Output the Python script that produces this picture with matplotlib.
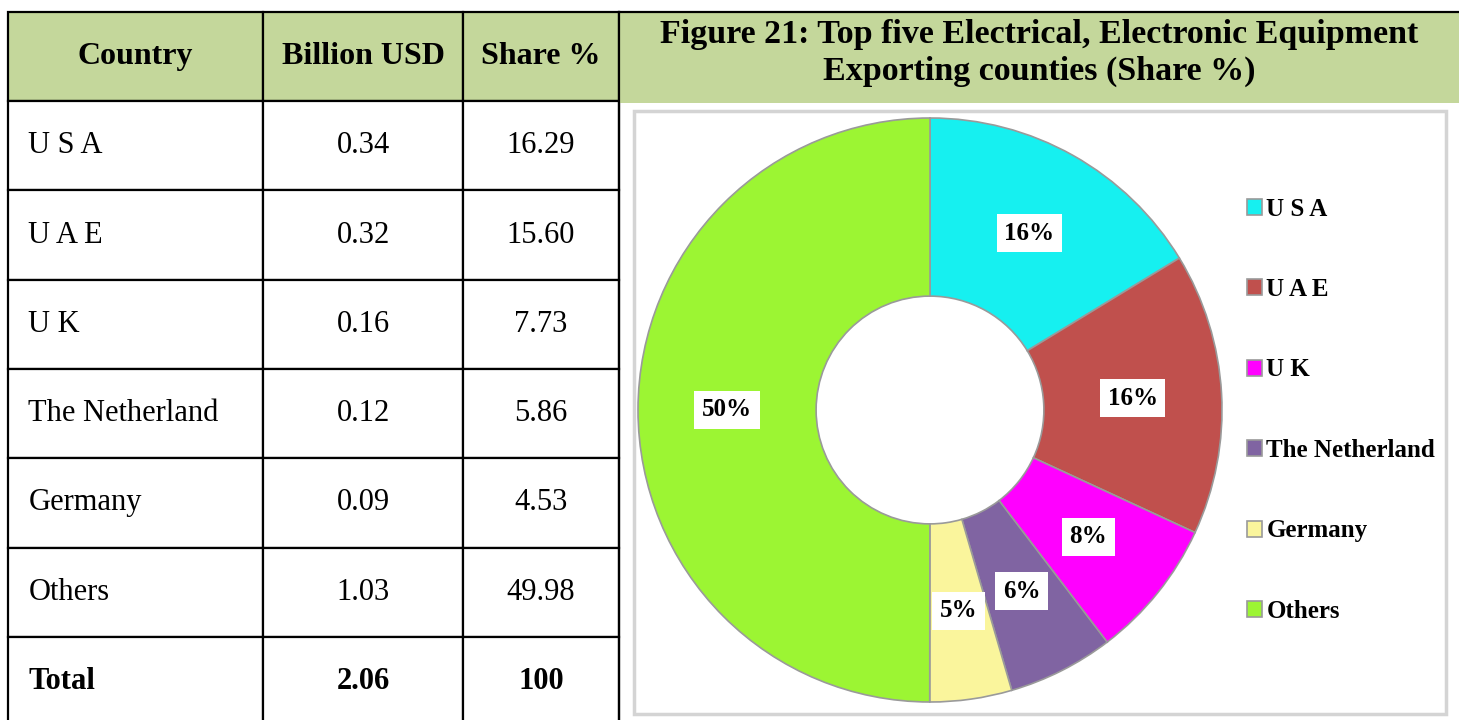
import matplotlib
matplotlib.use('Agg')
import matplotlib.pyplot as plt
from matplotlib.patches import Rectangle

plt.rcParams['font.family'] = ['Liberation Serif', 'DejaVu Serif']

# data from the table
countries = ['U S A', 'U A E', 'U K', 'The Netherland', 'Germany', 'Others']
billion_usd = [0.34, 0.32, 0.16, 0.12, 0.09, 1.03]
share = [16.29, 15.60, 7.73, 5.86, 4.53, 49.98]
total_usd = '2.06'
total_share = '100'
col_labels = ['Country', 'Billion USD', 'Share %']
title = 'Figure 21: Top five Electrical, Electronic Equipment\nExporting counties (Share %)'

colors = ['#16F0F0', '#C0504D', '#FF00FF', '#8064A2', '#FAF59C', '#9CF533']
header_green = '#C4D79B'

W, H = 1459, 720
fig = plt.figure(figsize=(W / 100, H / 100), dpi=100)

# full size axes in pixel-like coords for the layout
ax0 = fig.add_axes([0, 0, 1, 1])
ax0.set_xlim(0, W)
ax0.set_ylim(H, 0)
ax0.axis('off')

# ---- table on the left ----
rows = [[c, f'{b:.2f}', f'{s:.2f}'] for c, b, s in zip(countries, billion_usd, share)]
rows.append(['Total', total_usd, total_share])

x0, x1 = 8, 619
y_top, y_bot = 12, 726
tbl = ax0.table(cellText=rows, colLabels=col_labels,
                colWidths=[255, 200, 156], cellLoc='center',
                bbox=[x0 / W, (H - y_bot) / H, (x1 - x0) / W, (y_bot - y_top) / H])
tbl.auto_set_font_size(False)
for (r, c), cell in tbl.get_celld().items():
    cell.set_linewidth(1.6)
    cell.set_edgecolor('black')
    txt = cell.get_text()
    txt.set_fontsize(22)
    if r == 0:
        cell.set_facecolor(header_green)
        txt.set_fontweight('bold')
        txt.set_fontsize(23)
    if r == len(rows):
        txt.set_fontweight('bold')
    if c == 0 and r > 0:
        cell._loc = 'left'
        cell.PAD = 0.08
        txt.set_horizontalalignment('left')

# ---- right side header ----
ax0.add_patch(Rectangle((x1, y_top), W - x1, 103 - y_top, facecolor=header_green,
                        edgecolor='none', zorder=1))
ax0.plot([x1, W], [y_top, y_top], color='black', lw=1.6, zorder=3)
ax0.plot([x1, x1], [y_top, H], color='black', lw=1.6, zorder=3)
ax0.text((x1 + W) / 2, 53, title, ha='center', va='center', fontsize=24.5,
         fontweight='bold', linespacing=1.2)

# chart box
ax0.add_patch(Rectangle((634, 111), 812, 603, facecolor='white',
                        edgecolor='#D4D4D4', lw=2.5, zorder=1))

# ---- donut ----
cx, cy, R = 930, 410, 292
pad = 300
ax = fig.add_axes([(cx - pad) / W, (H - cy - pad) / H, 2 * pad / W, 2 * pad / H])
ring = 0.61
wedges, _, autotexts = ax.pie(share, colors=colors, startangle=90, counterclock=False,
                              radius=1, autopct='%1.0f%%', pctdistance=1 - ring / 2,
                              wedgeprops=dict(width=ring, edgecolor='#9A9A9A', linewidth=1.2))
for t in autotexts:
    t.set_fontsize(18)
    t.set_fontweight('bold')
    t.set_bbox(dict(facecolor='white', edgecolor='none', boxstyle='square,pad=0.3'))
ax.set_xlim(-pad / R, pad / R)
ax.set_ylim(-pad / R, pad / R)
ax.set_aspect('equal')
ax.axis('off')

fig.legend(wedges, countries, loc='upper left', bbox_to_anchor=(1234 / W, 1 - 185 / H),
           frameon=False, prop=dict(weight='bold', size=18),
           handlelength=0.6, handleheight=0.6, handletextpad=0.2, labelspacing=2.3,
           borderpad=0)

fig.savefig('out.png', dpi=100)
